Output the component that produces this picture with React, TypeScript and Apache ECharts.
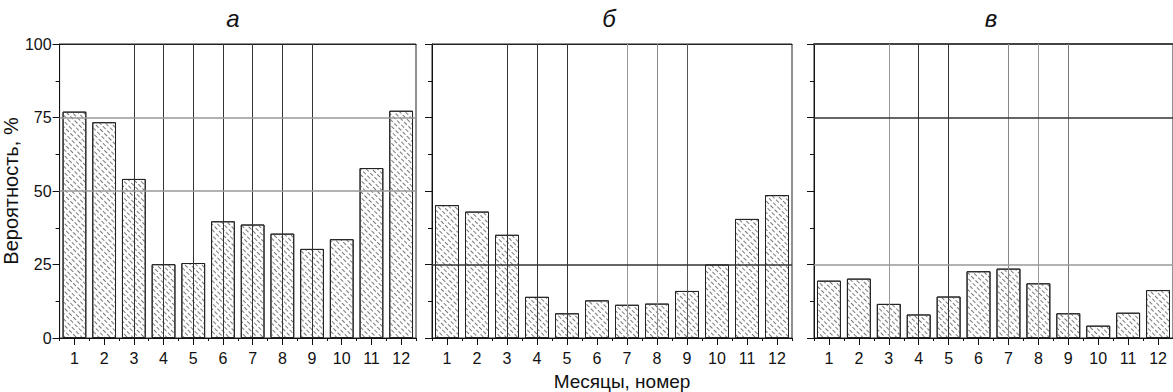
import React, { useEffect, useRef } from "react";
import * as echarts from "echarts";

const months = ["1", "2", "3", "4", "5", "6", "7", "8", "9", "10", "11", "12"];
const probA = [77.0, 73.4, 54.1, 25.1, 25.5, 39.7, 38.6, 35.5, 30.3, 33.6, 57.8, 77.3];
const probB = [45.2, 43.0, 35.1, 14.0, 8.4, 12.8, 11.3, 11.7, 16.0, 25.0, 40.5, 48.6];
const probC = [19.5, 20.2, 11.6, 8.0, 14.1, 22.7, 23.6, 18.6, 8.4, 4.2, 8.6, 16.3];
const panelTitles = ["а", "б", "в"];
const yMin = 0;
const yMax = 100;
const yStep = 25;
const vLinesA = ["3", "4", "5", "6", "7", "8", "9"];
const vLinesB = ["3", "4", "5", "7", "8", "9"];
const vLinesC = ["3", "4", "5", "7", "8", "9"];
const hLinesA = [50, 75];
const hLinesB = [25];
const hLinesC = [25, 75];
const yAxisTitle = "Вероятность, %";
const xAxisTitle = "Месяцы, номер";

const FONT = "'Liberation Sans', Arial, sans-serif";

// line colour lookups (style only)
const vColors: Record<string, string>[] = [
  { "3": "#333", "4": "#333", "5": "#333", "6": "#333", "7": "#333", "8": "#333", "9": "#333" },
  { "3": "#333", "4": "#333", "5": "#333", "7": "#999", "8": "#888", "9": "#555" },
  { "3": "#999", "4": "#333", "5": "#333", "7": "#888", "8": "#999", "9": "#777" },
];
const hColors: Record<number, string>[] = [
  { 50: "#999", 75: "#999" },
  { 25: "#333" },
  { 25: "#999", 75: "#333" },
];

const GRID_LEFTS = [56, 432, 814];
const GRID_W = 360;
const GRID_TOP = 44;
const GRID_H = 294;

export default function App() {
  const ref = useRef<HTMLDivElement>(null);

  useEffect(() => {
    if (!ref.current) return;
    const chart = echarts.init(ref.current, undefined, { renderer: "svg" });
    const datasets = [probA, probB, probC];
    const vLines = [vLinesA, vLinesB, vLinesC];
    const hLines = [hLinesA, hLinesB, hLinesC];

    const grids = GRID_LEFTS.map((left) => ({
      left,
      top: GRID_TOP,
      width: GRID_W,
      height: GRID_H,
      show: true,
      borderColor: "#222",
      borderWidth: 1,
      backgroundColor: "transparent",
      containLabel: false,
    }));

    const xAxes: any[] = [];
    const yAxes: any[] = [];
    GRID_LEFTS.forEach((_, i) => {
      xAxes.push({
        type: "category",
        gridIndex: i,
        data: months,
        position: "bottom",
        boundaryGap: true,
        axisLine: { show: true, lineStyle: { color: "#111", width: 1 } },
        axisTick: { show: true, alignWithLabel: true, inside: false, length: 7, lineStyle: { color: "#111" } },
        axisLabel: { show: true, color: "#111", fontSize: 16, fontFamily: FONT, margin: 12 },
        splitLine: { show: false },
      });
      xAxes.push({
        type: "category",
        gridIndex: i,
        data: months,
        position: "bottom",
        offset: 0,
        boundaryGap: true,
        axisLine: { show: false },
        axisTick: { show: true, alignWithLabel: false, inside: false, length: 3, lineStyle: { color: "#111" } },
        axisLabel: { show: false },
        splitLine: { show: false },
      });
      xAxes.push({
        type: "category",
        gridIndex: i,
        data: months,
        position: "top",
        boundaryGap: true,
        axisLine: { show: true, lineStyle: { color: i === 2 ? "#444" : "#222", width: i === 2 ? 2 : 1 } },
        axisTick: { show: false },
        axisLabel: { show: false },
        splitLine: { show: false },
      });
      yAxes.push({
        type: "value",
        gridIndex: i,
        min: yMin,
        max: yMax,
        interval: yStep,
        axisLine: { show: true, lineStyle: { color: "#111", width: 1 } },
        axisTick: { show: true, inside: false, length: 7, lineStyle: { color: "#111" } },
        minorTick: { show: true, splitNumber: 2, length: 4, lineStyle: { color: "#111" } },
        axisLabel: { show: i === 0, color: "#111", fontSize: 16, fontFamily: FONT, margin: 8 },
        splitLine: { show: false },
        name: i === 0 ? yAxisTitle : "",
        nameLocation: "middle",
        nameGap: 34,
        nameRotate: 90,
        nameTextStyle: { fontSize: 20, color: "#111", fontFamily: FONT },
      });
    });

    const series = datasets.map((vals, i) => ({
      type: "bar",
      xAxisIndex: i * 3,
      yAxisIndex: i,
      data: vals,
      barWidth: "80%",
      itemStyle: {
        color: "#fff",
        borderColor: "#222",
        borderWidth: 1,
        decal: {
          symbol: "rect",
          symbolSize: 1,
          color: "#7a7a7a",
          dashArrayX: [[4, 2]],
          dashArrayY: [1, 3],
          rotation: Math.PI / 4,
        },
      },
      markLine: {
        silent: true,
        symbol: "none",
        label: { show: false },
        animation: false,
        data: [
          ...vLines[i].map((c) => ({ xAxis: c, lineStyle: { color: vColors[i][c], width: 1, type: "solid" } })),
          ...hLines[i].map((v) => ({ yAxis: v, lineStyle: { color: hColors[i][v], width: 1.5, type: "solid" } })),
        ],
      },
    }));

    const titleXs = GRID_LEFTS.map((l) => l + GRID_W / 2 - 3);
    const graphic: any[] = panelTitles.map((t, i) => ({
      type: "text",
      x: titleXs[i],
      y: 18,
      style: {
        text: t,
        fill: "#111",
        font: `italic 24px ${FONT}`,
        textAlign: "center",
        textVerticalAlign: "middle",
      },
    }));
    graphic.push({
      type: "text",
      x: 622,
      y: 381,
      style: {
        text: xAxisTitle,
        fill: "#111",
        font: `19px ${FONT}`,
        textAlign: "center",
        textVerticalAlign: "middle",
      },
    });

    chart.setOption({
      animation: false,
      backgroundColor: "#fff",
      grid: grids,
      xAxis: xAxes,
      yAxis: yAxes,
      series,
      graphic,
    });
    return () => chart.dispose();
  }, []);

  return (
    <div
      ref={ref}
      style={{ position: "fixed", left: 0, top: 0, width: 1173, height: 392, background: "#fff" }}
    />
  );
}
